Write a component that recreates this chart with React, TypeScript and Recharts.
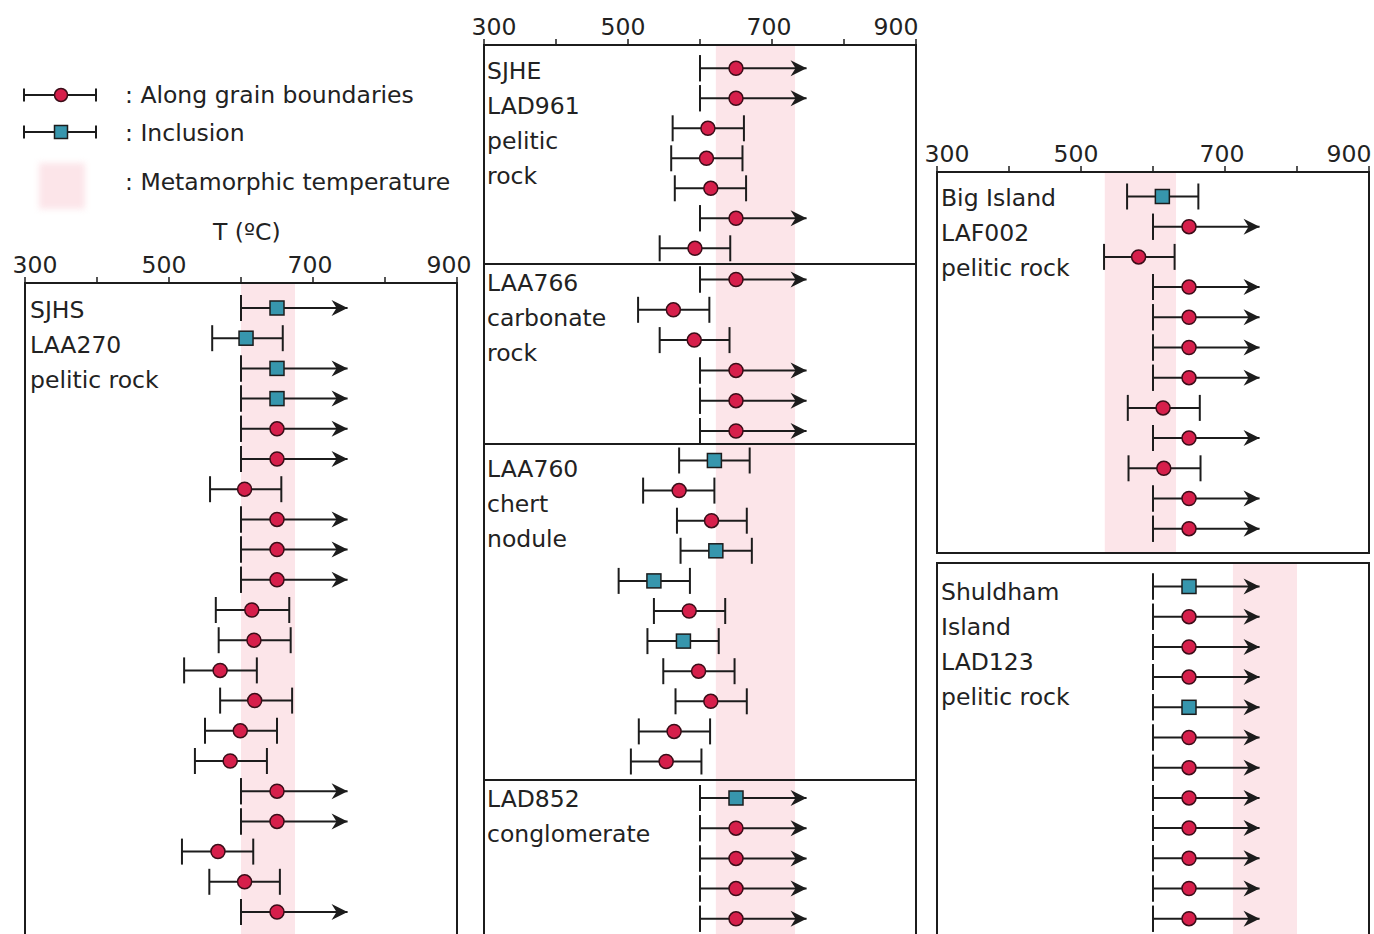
import React from 'react';
import { ScatterChart, Scatter, XAxis, YAxis, ErrorBar, ReferenceArea } from 'recharts';

const FONT = '"DejaVu Sans", "Liberation Sans", Arial, sans-serif';
const FS = 23.5;
const RED = '#d61f4b';
const TEAL = '#3796ad';
const INK = '#1c1c1c';
const PINK = '#fce5e9';

// x axis
const xTicks = [300, 400, 500, 600, 700, 800, 900];
const xLabels = [300, 500, 700, 900];
const ARROW_TO = 748; // open-ended (">") estimates drawn as arrows up to here

// SJHS LAA270 pelitic rock  (I = inclusion, G = along grain boundaries; high null = arrow)
const sjhsKind = ['I', 'I', 'I', 'I', 'G', 'G', 'G', 'G', 'G', 'G', 'G', 'G', 'G', 'G', 'G', 'G', 'G', 'G', 'G', 'G', 'G'];
const sjhsT = [650, 607, 650, 650, 650, 650, 605, 650, 650, 650, 615, 618, 571, 619, 599, 585, 650, 650, 568, 605, 650];
const sjhsLow = [600, 560, 600, 600, 600, 600, 557, 600, 600, 600, 565, 569, 521, 571, 550, 536, 600, 600, 518, 556, 600];
const sjhsHigh = [null, 658, null, null, null, null, 656, null, null, null, 667, 669, 622, 671, 650, 636, null, null, 617, 654, null];
const sjhsBand = [600, 675];

// SJHE LAD961 pelitic rock
const sjheKind = ['G', 'G', 'G', 'G', 'G', 'G', 'G'];
const sjheT = [650, 650, 611, 609, 615, 650, 593];
const sjheLow = [600, 600, 562, 560, 565, 600, 544];
const sjheHigh = [null, null, 661, 659, 664, null, 642];

// LAA766 carbonate rock
const laa766Kind = ['G', 'G', 'G', 'G', 'G', 'G'];
const laa766T = [650, 563, 592, 650, 650, 650];
const laa766Low = [600, 514, 544, 600, 600, 600];
const laa766High = [null, 613, 641, null, null, null];

// LAA760 chert nodule
const laa760Kind = ['I', 'G', 'G', 'I', 'I', 'G', 'I', 'G', 'G', 'G', 'G'];
const laa760T = [620, 571, 616, 622, 536, 585, 577, 598, 615, 564, 553];
const laa760Low = [571, 521, 568, 573, 487, 536, 527, 549, 566, 515, 504];
const laa760High = [669, 620, 665, 672, 586, 635, 626, 648, 665, 614, 602];

// LAD852 conglomerate
const lad852Kind = ['I', 'G', 'G', 'G', 'G'];
const lad852T = [650, 650, 650, 650, 650];
const lad852Low = [600, 600, 600, 600, 600];
const lad852High = [null, null, null, null, null];
const midBand = [622, 732];

// Big Island LAF002 pelitic rock
const bigKind = ['I', 'G', 'G', 'G', 'G', 'G', 'G', 'G', 'G', 'G', 'G', 'G'];
const bigT = [613, 650, 580, 650, 650, 650, 650, 614, 650, 615, 650, 650];
const bigLow = [564, 600, 532, 600, 600, 600, 600, 565, 600, 566, 600, 600];
const bigHigh = [663, null, 630, null, null, null, null, 665, null, 666, null, null];
const bigBand = [533, 632];

// Shuldham Island LAD123 pelitic rock
const shuKind = ['I', 'G', 'G', 'G', 'I', 'G', 'G', 'G', 'G', 'G', 'G', 'G'];
const shuT = [650, 650, 650, 650, 650, 650, 650, 650, 650, 650, 650, 650];
const shuLow = [600, 600, 600, 600, 600, 600, 600, 600, 600, 600, 600, 600];
const shuHigh = [null, null, null, null, null, null, null, null, null, null, null, null];
const shuBand = [711, 800];

const PLOT_W = 432;
const PAD = 32;

const Marker = (props: any) => {
  const { cx, cy, payload } = props;
  if (payload.kind === 'I') {
    return <rect x={cx - 7} y={cy - 7} width={14} height={14} fill={TEAL} stroke={INK} strokeWidth={1.5} />;
  }
  return <circle cx={cx} cy={cy} r={7} fill={RED} stroke="#3a0d18" strokeWidth={1.5} />;
};

const ArrowHead = (props: any) => {
  const { cx, cy } = props;
  return <path d={`M${cx},${cy} L${cx - 16},${cy - 8} L${cx - 11},${cy} L${cx - 16},${cy + 8} Z`} fill={INK} />;
};

const Nothing = () => <g />;

const makeTick = (nudge900: number) => (props: any) => {
  const { x, y, payload } = props;
  const v = payload.value;
  if (!xLabels.includes(v)) return <g />;
  const nudge = v === 300 ? 10 : v === 500 ? -5 : v === 700 ? -3 : nudge900;
  return (
    <text x={x + nudge} y={y} textAnchor="middle" fontSize={FS} fill="#222" fontFamily={FONT}>
      {v}
    </text>
  );
};

interface PanelProps {
  left: number;
  top: number;
  height: number;
  rowStart: number;
  rowGap: number;
  axis: 'labels' | 'ticks' | 'none';
  nudge900?: number;
  kind: string[];
  temp: number[];
  low: number[];
  high: (number | null)[];
  band: number[];
}

const Panel: React.FC<PanelProps> = ({
  left, top, height, rowStart, rowGap, axis, nudge900 = -20, kind, temp, low, high, band,
}) => {
  const axisH = axis === 'labels' ? 40 : axis === 'ticks' ? 8 : 0;
  const markers = temp.map((t, i) => ({ x: t, y: i, kind: kind[i] }));
  const closed = temp
    .map((t, i) => ({ x: t, y: i, err: [t - low[i], (high[i] ?? t) - t], open: high[i] == null }))
    .filter((d) => !d.open);
  const openCaps = temp
    .map((t, i) => ({ x: low[i], y: i, err: [0, 0], open: high[i] == null }))
    .filter((d) => d.open);
  const arrows = temp
    .map((t, i) => ({ x: ARROW_TO, y: i, err: [ARROW_TO - low[i], 0], open: high[i] == null }))
    .filter((d) => d.open);

  const w = PLOT_W + 2 * PAD;
  const h = axisH + height + 2;
  const margin = { top: 0, right: PAD, bottom: 2, left: PAD };
  const yDomain = [-rowStart / rowGap, (height - rowStart) / rowGap];

  const xAxis = (visible: boolean) => (
    <XAxis
      type="number"
      dataKey="x"
      domain={[300, 900]}
      ticks={xTicks}
      interval={0}
      allowDataOverflow
      orientation="top"
      height={axisH}
      hide={axis === 'none'}
      tickSize={6}
      tickMargin={4}
      axisLine={visible ? { stroke: INK, strokeWidth: 2 } : false}
      tickLine={visible ? { stroke: INK, strokeWidth: 1.5 } : false}
      tick={visible && axis === 'labels' ? makeTick(nudge900) : false}
    />
  );
  const yAxis = <YAxis type="number" dataKey="y" hide reversed allowDataOverflow domain={yDomain} />;

  return (
    <>
      {/* bands, frame, error bars and arrows */}
      <div style={{ position: 'absolute', left: left - PAD, top: top - axisH }}>
        <ScatterChart width={w} height={h} margin={margin}>
          {xAxis(true)}
          {yAxis}
          <ReferenceArea x1={band[0]} x2={band[1]} fill={PINK} fillOpacity={1} stroke="none" />
          <ReferenceArea x1={300} x2={900} fill="none" stroke={INK} strokeWidth={2} />
          <Scatter data={closed} shape={<Nothing />} isAnimationActive={false}>
            <ErrorBar dataKey="err" direction="x" width={13} stroke={INK} strokeWidth={2} />
          </Scatter>
          <Scatter data={openCaps} shape={<Nothing />} isAnimationActive={false}>
            <ErrorBar dataKey="err" direction="x" width={13} stroke={INK} strokeWidth={2} />
          </Scatter>
          <Scatter data={arrows} shape={<ArrowHead />} isAnimationActive={false}>
            <ErrorBar dataKey="err" direction="x" width={0} stroke={INK} strokeWidth={2} />
          </Scatter>
        </ScatterChart>
      </div>
      {/* markers on top */}
      <div style={{ position: 'absolute', left: left - PAD, top: top - axisH }}>
        <ScatterChart width={w} height={h} margin={margin}>
          {xAxis(false)}
          {yAxis}
          <Scatter data={markers} shape={<Marker />} isAnimationActive={false} />
        </ScatterChart>
      </div>
    </>
  );
};

const PanelText: React.FC<{ left: number; top: number; lines: string[] }> = ({ left, top, lines }) => (
  <div
    style={{
      position: 'absolute',
      left,
      top,
      fontSize: FS,
      lineHeight: '35px',
      color: '#222',
      whiteSpace: 'pre',
    }}
  >
    {lines.map((l) => (
      <div key={l}>{l}</div>
    ))}
  </div>
);

const LegendBar: React.FC<{ kind: string; top: number }> = ({ kind, top }) => (
  <svg style={{ position: 'absolute', left: 20, top: top - 10 }} width={84} height={20}>
    <line x1={4} y1={10} x2={76} y2={10} stroke={INK} strokeWidth={2} />
    <line x1={4} y1={3.5} x2={4} y2={16.5} stroke={INK} strokeWidth={2} />
    <line x1={76} y1={3.5} x2={76} y2={16.5} stroke={INK} strokeWidth={2} />
    {kind === 'I' ? (
      <rect x={34.5} y={3.5} width={13} height={13} fill={TEAL} stroke={INK} strokeWidth={1.5} />
    ) : (
      <circle cx={41} cy={10} r={6.5} fill={RED} stroke="#3a0d18" strokeWidth={1.5} />
    )}
  </svg>
);

const legendText: React.CSSProperties = {
  position: 'absolute',
  fontSize: FS,
  lineHeight: '35px',
  color: '#222',
  whiteSpace: 'pre',
};

export default function App() {
  return (
    <div
      style={{
        position: 'absolute',
        left: 0,
        top: 0,
        width: 1374,
        height: 934,
        overflow: 'hidden',
        background: '#fff',
        fontFamily: FONT,
      }}
    >
      {/* legend */}
      <LegendBar kind="G" top={95} />
      <div style={{ ...legendText, left: 125, top: 78 }}>: Along grain boundaries</div>
      <LegendBar kind="I" top={132} />
      <div style={{ ...legendText, left: 125, top: 116 }}>: Inclusion</div>
      <div
        style={{
          position: 'absolute',
          left: 39,
          top: 163,
          width: 46,
          height: 46,
          background: PINK,
          filter: 'blur(3px)',
        }}
      />
      <div style={{ ...legendText, left: 125, top: 165 }}>: Metamorphic temperature</div>
      <div style={{ ...legendText, left: 213, top: 215 }}>T (ºC)</div>

      {/* left column */}
      <Panel left={25} top={283} height={660} rowStart={25} rowGap={30.2} axis="labels" nudge900={-8}
        kind={sjhsKind} temp={sjhsT} low={sjhsLow} high={sjhsHigh} band={sjhsBand} />
      <PanelText left={30} top={293} lines={['SJHS', 'LAA270', 'pelitic rock']} />

      {/* middle column */}
      <Panel left={483.5} top={45} height={219} rowStart={23.3} rowGap={30} axis="labels"
        kind={sjheKind} temp={sjheT} low={sjheLow} high={sjheHigh} band={midBand} />
      <Panel left={483.5} top={264} height={180} rowStart={15.5} rowGap={30.3} axis="none"
        kind={laa766Kind} temp={laa766T} low={laa766Low} high={laa766High} band={midBand} />
      <Panel left={483.5} top={444} height={336} rowStart={16.5} rowGap={30.1} axis="none"
        kind={laa760Kind} temp={laa760T} low={laa760Low} high={laa760High} band={midBand} />
      <Panel left={483.5} top={780} height={170} rowStart={18} rowGap={30.2} axis="none"
        kind={lad852Kind} temp={lad852T} low={lad852Low} high={lad852High} band={midBand} />
      <PanelText left={487} top={54} lines={['SJHE', 'LAD961', 'pelitic', 'rock']} />
      <PanelText left={487} top={266} lines={['LAA766', 'carbonate', 'rock']} />
      <PanelText left={487} top={452} lines={['LAA760', 'chert', 'nodule']} />
      <PanelText left={487} top={782} lines={['LAD852', 'conglomerate']} />

      {/* right column */}
      <Panel left={937} top={172} height={381} rowStart={24.5} rowGap={30.2} axis="labels"
        kind={bigKind} temp={bigT} low={bigLow} high={bigHigh} band={bigBand} />
      <Panel left={937} top={563} height={390} rowStart={23.5} rowGap={30.2} axis="ticks"
        kind={shuKind} temp={shuT} low={shuLow} high={shuHigh} band={shuBand} />
      <PanelText left={941} top={181} lines={['Big Island', 'LAF002', 'pelitic rock']} />
      <PanelText left={941} top={575} lines={['Shuldham', 'Island', 'LAD123', 'pelitic rock']} />
    </div>
  );
}
